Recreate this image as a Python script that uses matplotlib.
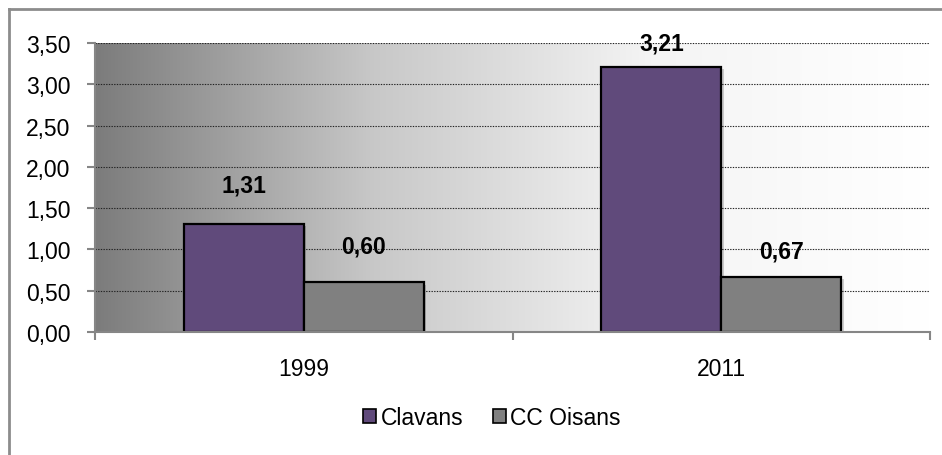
import numpy as np
import matplotlib
matplotlib.use("Agg")
import matplotlib.pyplot as plt
from matplotlib.colors import LinearSegmentedColormap
from matplotlib.lines import Line2D
from matplotlib.patches import Patch

plt.rcParams['font.family'] = ['Liberation Sans', 'DejaVu Sans']

years = ['1999', '2011']
series_names = ['Clavans', 'CC Oisans']
clavans = [1.31, 3.21]
cc_oisans = [0.60, 0.67]
y_ticks = [0.0, 0.5, 1.0, 1.5, 2.0, 2.5, 3.0, 3.5]

W, H, DPI = 942, 456, 100
fig = plt.figure(figsize=(W / DPI, H / DPI), dpi=DPI)
fig.patch.set_facecolor('white')

# chart frame (top and left edges visible)
fig.add_artist(Line2D([9 / W, 9 / W], [0, 1 - 10 / H], transform=fig.transFigure,
                      color='#8c8c8c', lw=2))
fig.add_artist(Line2D([9 / W, 1], [1 - 10 / H, 1 - 10 / H], transform=fig.transFigure,
                      color='#8c8c8c', lw=2))

left, right, top, bottom = 95, 930, 44, 333
ax = fig.add_axes([left / W, 1 - bottom / H, (right - left) / W, (bottom - top) / H])

fs = 16.5
x = np.arange(len(years))
width = 0.287

ax.set_xlim(-0.5, len(years) - 0.5)
ax.set_ylim(0, 3.5)

# horizontal gradient background
cmap = LinearSegmentedColormap.from_list('bg', ['#7c7c7c', '#c8c8c8', '#f4f4f4', '#ffffff'])
grad = np.linspace(0, 1, 512).reshape(1, -1)
ax.imshow(grad, cmap=cmap, aspect='auto', extent=[-0.5, len(years) - 0.5, 0, 3.5],
          zorder=0, interpolation='bicubic')

# dotted gridlines
for yv in y_ticks[1:]:
    ax.axhline(yv, color='#222222', lw=0.8, ls=(0, (1.2, 1.2)), zorder=1)

colors = ['#604a7b', '#808080']
offsets_px = [[39, 26 + 10], [24, 26]]
for i, (vals, col) in enumerate(zip([clavans, cc_oisans], colors)):
    xpos = x + (i - 0.5) * width
    # soft drop shadow
    ax.bar(xpos + 0.006, vals, width, color='#000000', alpha=0.18, zorder=2,
           linewidth=0, bottom=-0.03)
    ax.bar(xpos, vals, width, color=col, edgecolor='black', linewidth=1.6, zorder=3)
    for j, (xp, v) in enumerate(zip(xpos, vals)):
        off = [[39, 24], [36, 26]][i][j]
        ax.annotate(f"{v:.2f}".replace('.', ','), (xp, v), xytext=(0, off * 72 / DPI),
                    textcoords='offset points', ha='center', va='center',
                    fontsize=fs, fontweight='bold', color='black', zorder=5)

for s in ['top', 'right']:
    ax.spines[s].set_visible(False)
for s in ['left', 'bottom']:
    ax.spines[s].set_color('#868686')
    ax.spines[s].set_linewidth(1.5)
ax.spines['bottom'].set_zorder(4)

ax.set_yticks(y_ticks)
ax.set_yticklabels([f"{v:.2f}".replace('.', ',') for v in y_ticks])
ax.tick_params(axis='y', length=6, width=1.5, color='#868686', pad=11.5,
               labelsize=fs, labelcolor='black')

ax.set_xticks(x)
ax.set_xticklabels(years)
ax.tick_params(axis='x', which='major', length=0, pad=18, labelsize=fs)
ax.set_xticks(np.arange(-0.5, len(years)), minor=True)
ax.tick_params(axis='x', which='minor', length=6, width=1.5, color='#868686')

handles = [Patch(facecolor=c, edgecolor='black', linewidth=1.2) for c in colors]
fig.legend(handles, series_names, loc='center', bbox_to_anchor=(492 / W, 1 - 419 / H),
           ncol=2, frameon=False, fontsize=fs, handlelength=0.55, handleheight=0.55,
           handletextpad=0.2, columnspacing=1.3)

fig.savefig('out.png', dpi=DPI, facecolor='white')
